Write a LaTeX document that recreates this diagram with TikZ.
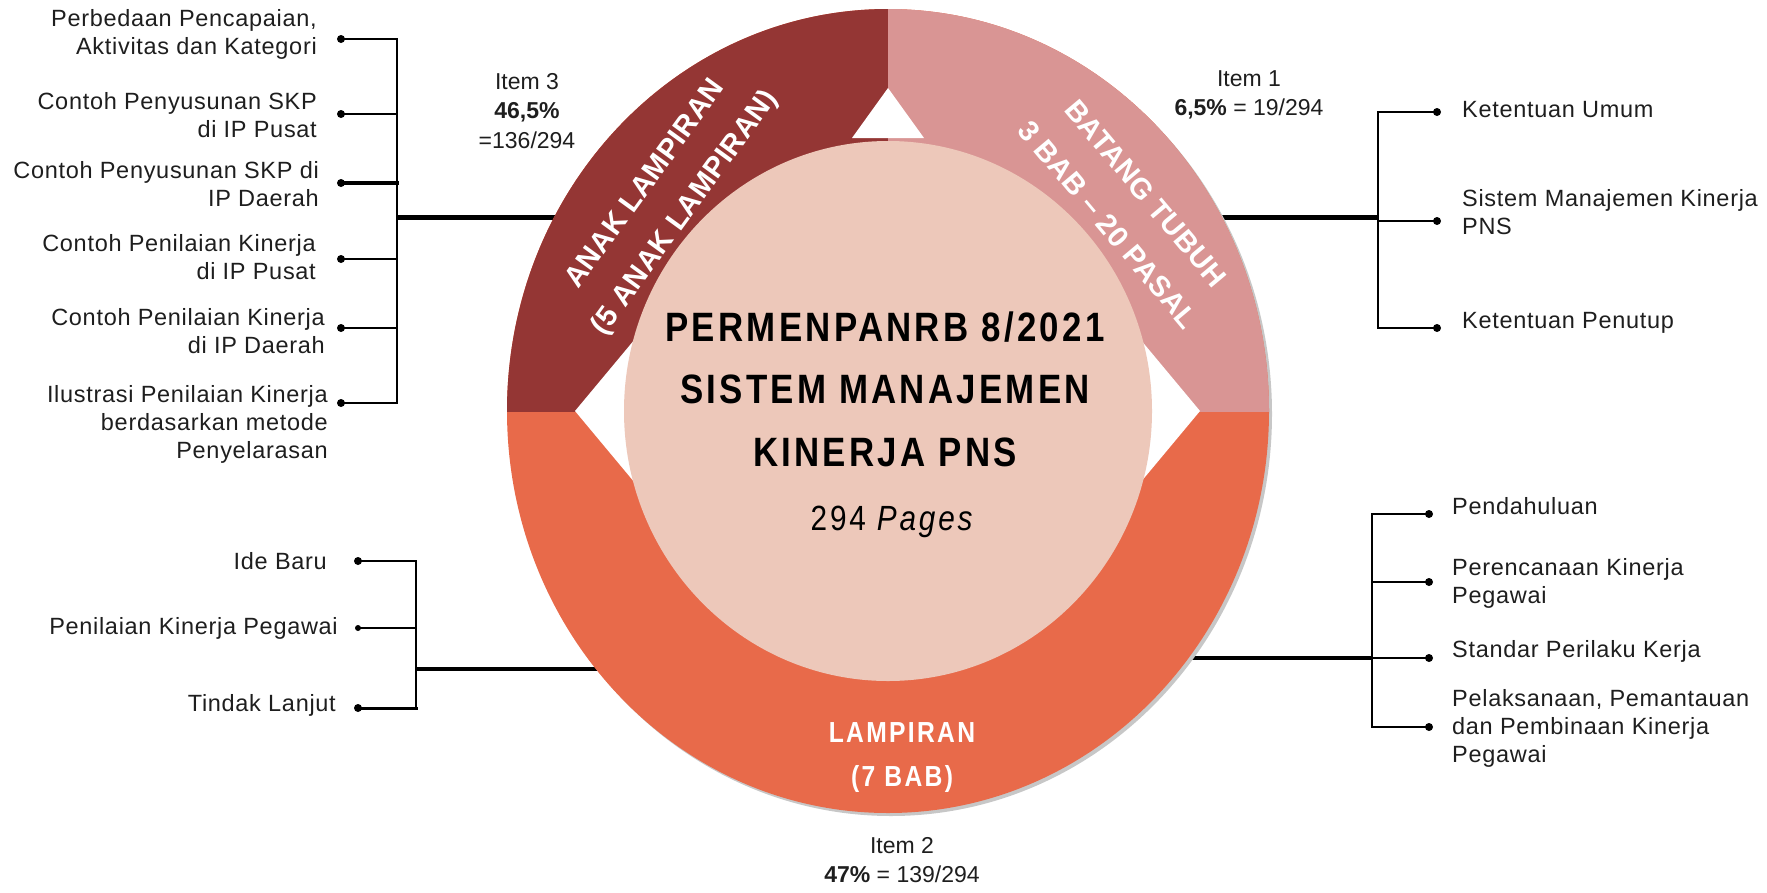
\documentclass[tikz,border=0pt]{standalone}
\usepackage{fontspec}
\setmainfont{Liberation Sans}
\newfontfamily\sidefont[LetterSpace=3]{Liberation Sans}
\newfontfamily\condfont[FakeStretch=0.85,LetterSpace=8]{Liberation Sans}
\newfontfamily\bandfont[LetterSpace=1.5]{Liberation Sans}
\usetikzlibrary{calc}

\definecolor{anakred}{RGB}{148,54,52}
\definecolor{batangpink}{RGB}{217,149,148}
\definecolor{lampiranorange}{RGB}{232,106,74}
\definecolor{corepink}{RGB}{237,200,186}
\definecolor{txtgray}{RGB}{30,30,30}

\tikzset{
  sidetxt/.style={font=\sidefont\fontsize{23.5}{28}\selectfont,text=txtgray,inner sep=0pt},
  itemtxt/.style={font=\fontsize{23}{29.5}\selectfont,text=txtgray,align=center,inner sep=0pt},
  bandtxt/.style={font=\bandfont\bfseries\fontsize{29}{49}\selectfont,text=white,align=center,inner sep=0pt},
  enddot/.style={circle,fill=black,inner sep=0pt,minimum size=8pt},
  mainline/.style={line width=4.5pt},
  busline/.style={line width=2.5pt,line cap=rect},
}

\begin{document}
\begin{tikzpicture}[x=1pt,y=-1pt]
          %\draw[very thin,lightgray] (0,0) grid[step=100] (1767,892);
          \useasboundingbox (0,0) rectangle (1767,892);
          \coordinate (c) at (888,411);

          % connectors from the ring to the buses
          \coordinate (ab) at (397,217.5);
          \coordinate (bb) at (416,669);
          \coordinate (rb) at (1378,217.5);
          \coordinate (sb) at (1372,658);
          \draw[mainline] (ab) -- (ab -| c);
          \draw[mainline] (bb) -- (bb -| c);
          \draw[mainline] (rb) -- (rb -| c);
          \draw[mainline] (sb) -- (sb -| c);

          % ring
          \fill[black!22] ($(c)+(3,3)$) ellipse[x radius=381,y radius=402];
          \fill[lampiranorange] (c) ellipse[x radius=381,y radius=402];
          \begin{scope}
            \clip (500,0) rectangle (888,411);
            \fill[anakred] (c) ellipse[x radius=381,y radius=402];
          \end{scope}
          \begin{scope}
            \clip (888,0) rectangle (1280,411);
            \fill[batangpink] (c) ellipse[x radius=381,y radius=402];
          \end{scope}
          \fill[white] (575,411) -- (635,339) -- (635,483) -- cycle;
          \fill[white] (1200,411) -- (1140,339) -- (1140,483) -- cycle;
          \fill[corepink] (c) ellipse[x radius=264,y radius=270];
          \fill[white] (888,88) -- (924,138) -- (852,138) -- cycle;

          % texts in the ring
          \node[font=\condfont\bfseries\fontsize{41}{62.5}\selectfont,align=center,inner sep=0pt] (title) at (885,389)
            {PERMENPANRB 8/2021\\SISTEM MANAJEMEN\\KINERJA PNS};
          \node[font=\condfont\fontsize{35}{40}\selectfont,inner sep=0pt] (pages) at (893,522) {294 \textit{Pages}};
          \node[bandtxt,rotate=54] (anak) at (666,199) {ANAK LAMPIRAN\\(5 ANAK LAMPIRAN)};
          \node[bandtxt,rotate=-50] (batang) at (1127,209) {BATANG TUBUH\\3 BAB – 20 PASAL};
          \node[bandtxt,font=\condfont\bfseries\fontsize{29}{44}\selectfont] (lamp) at (902,758) {LAMPIRAN\\(7 BAB)};

          % item labels
          \node[itemtxt] (item3) at (527,111) {Item 3\\\textbf{46,5\%}\\=136/294};
          \node[itemtxt] (item1) at (1249,95) {Item 1\\\textbf{6,5\%} = 19/294};
          \node[itemtxt] (item2) at (902,860) {Item 2\\\textbf{47\%} = 139/294};

          % anak lampiran
          \node[sidetxt,anchor=east,align=right] (a1) at (317,34) {Perbedaan Pencapaian,\\Aktivitas dan Kategori};
          \node[sidetxt,anchor=east,align=right] (a2) at (317,115) {Contoh Penyusunan SKP\\di IP Pusat};
          \node[sidetxt,anchor=east,align=right] (a3) at (319,184) {Contoh Penyusunan SKP di\\IP Daerah};
          \node[sidetxt,anchor=east,align=right] (a4) at (316,257) {Contoh Penilaian Kinerja\\di IP Pusat};
          \node[sidetxt,anchor=east,align=right] (a5) at (325,331) {Contoh Penilaian Kinerja\\di IP Daerah};
          \node[sidetxt,anchor=east,align=right] (a6) at (328,424) {Ilustrasi Penilaian Kinerja\\berdasarkan metode\\Penyelarasan};
          \node[enddot] (ad1) at (341,39) {};
          \node[enddot] (ad2) at (341,114) {};
          \node[enddot] (ad3) at (341,183) {};
          \node[enddot] (ad4) at (341,259) {};
          \node[enddot] (ad5) at (341,328) {};
          \node[enddot] (ad6) at (341,403) {};
          \draw[busline] (ad1 -| ab) -- (ad6 -| ab);
          \draw[busline] (ad1.center) -- (ad1 -| ab);
          \draw[busline] (ad2.center) -- (ad2 -| ab);
          \draw[busline,line width=4.5pt] (ad3.center) -- (ad3 -| ab);
          \draw[busline] (ad4.center) -- (ad4 -| ab);
          \draw[busline] (ad5.center) -- (ad5 -| ab);
          \draw[busline] (ad6.center) -- (ad6 -| ab);

          % lampiran, left
          \node[sidetxt,anchor=east] (b1) at (327,561) {Ide Baru};
          \node[sidetxt,anchor=east] (b2) at (338,628) {Penilaian Kinerja Pegawai};
          \node[sidetxt,anchor=east] (b3) at (336,705) {Tindak Lanjut};
          \node[enddot] (bd1) at (358,561) {};
          \node[enddot,minimum size=6pt] (bd2) at (358,628) {};
          \node[enddot] (bd3) at (358,708) {};
          \draw[busline] (bd1 -| bb) -- (bd3 -| bb);
          \draw[busline] (bd1.center) -- (bd1 -| bb);
          \draw[line width=1.2pt] (bd2.center) -- (bd2 -| bb);
          \draw[busline,line width=3pt] (bd3.center) -- (bd3 -| bb);

          % batang tubuh
          \node[sidetxt,anchor=west] (r1) at (1462,110) {Ketentuan Umum};
          \node[sidetxt,anchor=west,align=left] (r2) at (1462,212) {Sistem Manajemen Kinerja\\PNS};
          \node[sidetxt,anchor=west] (r3) at (1462,323) {Ketentuan Penutup};
          \node[enddot] (rd1) at (1437,112) {};
          \node[enddot] (rd2) at (1437,221) {};
          \node[enddot] (rd3) at (1437,328) {};
          \draw[busline] (rd1 -| rb) -- (rd3 -| rb);
          \draw[busline] (rd1.center) -- (rd1 -| rb);
          \draw[busline] (rd2.center) -- (rd2 -| rb);
          \draw[busline] (rd3.center) -- (rd3 -| rb);

          % lampiran, right
          \node[sidetxt,anchor=west] (s1) at (1452,506) {Pendahuluan};
          \node[sidetxt,anchor=west,align=left] (s2) at (1452,583) {Perencanaan Kinerja\\Pegawai};
          \node[sidetxt,anchor=west] (s3) at (1452,651) {Standar Perilaku Kerja};
          \node[sidetxt,anchor=west,align=left] (s4) at (1452,728) {Pelaksanaan, Pemantauan\\dan Pembinaan Kinerja\\Pegawai};
          \node[enddot] (sd1) at (1429,514) {};
          \node[enddot] (sd2) at (1429,582) {};
          \node[enddot] (sd3) at (1429,658) {};
          \node[enddot] (sd4) at (1429,727) {};
          \draw[busline] (sd1 -| sb) -- (sd4 -| sb);
          \draw[busline] (sd1.center) -- (sd1 -| sb);
          \draw[busline] (sd2.center) -- (sd2 -| sb);
          \draw[busline] (sd3.center) -- (sd3 -| sb);
          \draw[busline] (sd4.center) -- (sd4 -| sb);
        \end{tikzpicture}
\end{document}
